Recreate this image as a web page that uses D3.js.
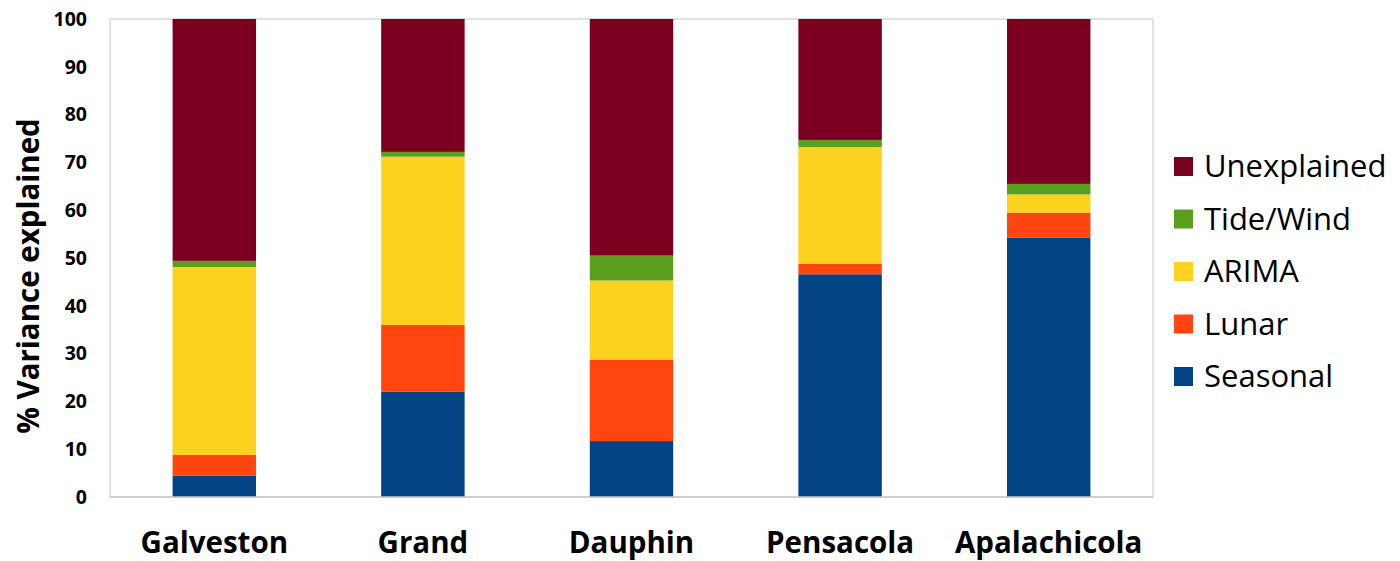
<!DOCTYPE html>
<html>
<head>
<meta charset="utf-8">
<script src="https://cdn.jsdelivr.net/npm/d3@7"></script>
<style>
  html, body { margin: 0; padding: 0; background: #fff; }
  svg { display: block; }
  text { font-family: "Open Sans", "DejaVu Sans", sans-serif; }
</style>
</head>
<body>
<svg id="chart" width="1400" height="561"></svg>
<script>
const categories = ["Galveston", "Grand", "Dauphin", "Pensacola", "Apalachicola"];
const seriesNames = ["Seasonal", "Lunar", "ARIMA", "Tide/Wind", "Unexplained"];
const seasonal    = [4.5, 22.0, 11.7, 46.6, 54.3];
const lunar       = [4.3, 14.0, 17.0, 2.2, 5.2];
const arima       = [39.3, 35.2, 16.6, 24.4, 3.8];
const tideWind    = [1.3, 1.0, 5.2, 1.5, 2.2];
const unexplained = [50.6, 27.8, 49.5, 25.3, 34.5];
const yTicks = [0, 10, 20, 30, 40, 50, 60, 70, 80, 90, 100];
const colors = ["#024383", "#FF4510", "#FDD21E", "#5A9E1E", "#7B0020"];

const seriesValues = [seasonal, lunar, arima, tideWind, unexplained];
const rows = categories.map((c, i) => {
  const r = { category: c };
  seriesNames.forEach((s, j) => r[s] = seriesValues[j][i]);
  return r;
});

const svg = d3.select("#chart");
const mLeft = 110, mRight = 1153, mTop = 19, mBottom = 497;

const x = d3.scaleBand().domain(categories).range([mLeft, mRight]).paddingInner(0.6).paddingOuter(0.3);
const y = d3.scaleLinear().domain([0, 100]).range([mBottom, mTop]);
const color = d3.scaleOrdinal().domain(seriesNames).range(colors);

// plot area border
svg.append("rect")
  .attr("x", mLeft).attr("y", mTop)
  .attr("width", mRight - mLeft).attr("height", mBottom - mTop)
  .attr("fill", "none").attr("stroke", "#d9d9d9").attr("stroke-width", 1.5);

const stacked = d3.stack().keys(seriesNames)(rows);

svg.append("g").selectAll("g")
  .data(stacked)
  .join("g")
  .attr("fill", d => color(d.key))
  .selectAll("rect")
  .data(d => d)
  .join("rect")
  .attr("x", d => x(d.data.category))
  .attr("width", x.bandwidth())
  .attr("y", d => y(Math.min(d[1], 100)))
  .attr("height", d => y(d[0]) - y(Math.min(d[1], 100)));

// x-axis line
svg.append("line")
  .attr("x1", mLeft).attr("x2", mRight).attr("y1", mBottom).attr("y2", mBottom)
  .attr("stroke", "#c8c8c8").attr("stroke-width", 1.5);

// y axis
const yAxis = d3.axisLeft(y).tickValues(yTicks).tickSize(0).tickPadding(23);
const yg = svg.append("g").attr("transform", `translate(${mLeft},0)`).call(yAxis);
yg.select(".domain").remove();
yg.selectAll("text")
  .attr("font-family", "'Open Sans', sans-serif")
  .attr("font-size", 19.5).attr("font-weight", "bold").attr("fill", "#000");

// x axis labels
const xAxis = d3.axisBottom(x).tickSize(0).tickPadding(0);
const xg = svg.append("g").attr("transform", `translate(0,${mBottom})`).call(xAxis);
xg.select(".domain").remove();
xg.selectAll("text")
  .attr("font-family", "'Open Sans', sans-serif")
  .attr("font-size", 29.5).attr("font-weight", "bold").attr("fill", "#000")
  .attr("dy", null).attr("y", 56);

// y title
svg.append("text")
  .attr("transform", `translate(39,${(mTop + mBottom) / 2 + 18}) rotate(-90)`)
  .attr("text-anchor", "middle")
  .attr("font-size", 29.5).attr("font-weight", "bold").attr("fill", "#000")
  .text("% Variance explained");

// legend
const legendOrder = seriesNames.slice().reverse();
const lg = svg.append("g").attr("transform", "translate(1174,157)");
const items = lg.selectAll("g").data(legendOrder).join("g")
  .attr("transform", (d, i) => `translate(0,${i * 52.5})`);
items.append("rect").attr("width", 19).attr("height", 19).attr("fill", d => color(d));
items.append("text").attr("x", 30).attr("y", 20)
  .attr("font-size", 31).attr("fill", "#000").text(d => d);
</script>
</body>
</html>
